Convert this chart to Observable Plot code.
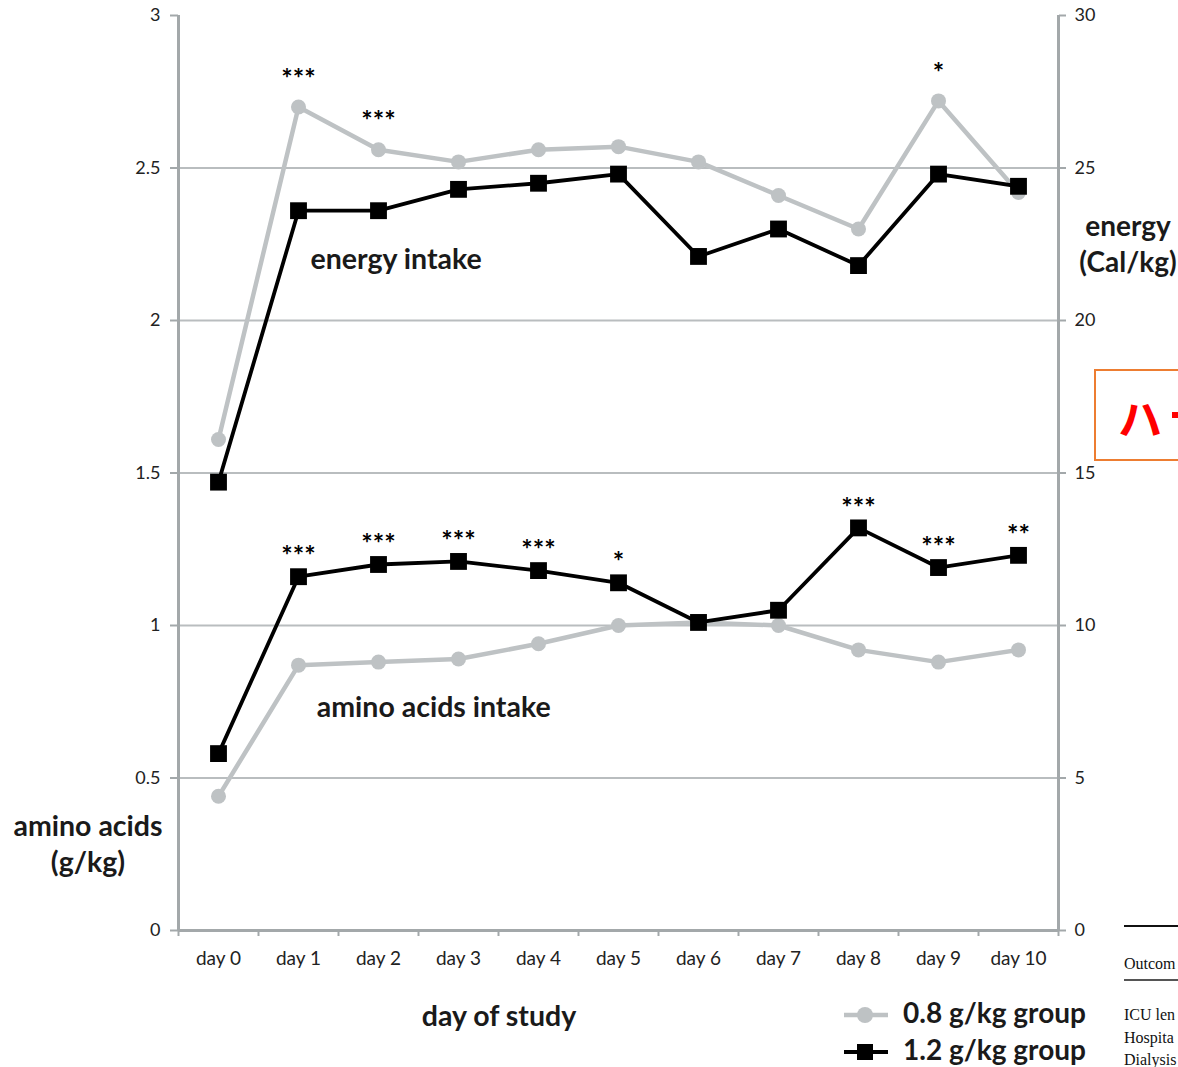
<!DOCTYPE html>
<html>
<head>
<meta charset="utf-8">
<script src="https://cdn.jsdelivr.net/npm/d3@7"></script>
<script src="https://cdn.jsdelivr.net/npm/@observablehq/plot@0.6"></script>
<style>
  html, body { margin: 0; padding: 0; background: #fff; width: 1178px; height: 1067px; overflow: hidden; }
  #wrap { position: relative; width: 1178px; height: 1067px; overflow: hidden; font-family: Lato, "Open Sans", sans-serif; }
  #chart { position: absolute; left: 0; top: 0; }
  .lbl { position: absolute; font-weight: bold; color: #1a1a1a; white-space: nowrap; text-align: center; line-height: 36px; }
  .leg { position: absolute; font-weight: bold; color: #1a1a1a; font-size: 28px; white-space: nowrap; }
  .serif { position: absolute; font-family: "Liberation Serif", serif; font-size: 16px; color: #111; white-space: nowrap; }
</style>
</head>
<body>
<div id="wrap">
  <div id="chart"></div>
  <div class="lbl" style="left:3px; top:807px; width:170px; font-size:28.5px;">amino acids<br>(g/kg)</div>
  <div class="lbl" style="left:1068px; top:207px; width:120px; font-size:28px;">energy<br>(Cal/kg)</div>
  <div class="lbl" style="left:389px; top:997px; width:220px; font-size:28.5px;">day of study</div>
  <div id="legend"></div>
  <div style="position:absolute; left:1094px; top:369px; width:120px; height:88px; border:2px solid #ed7d31;"></div>
  <div style="position:absolute; left:1118px; top:385px; font-size:44px; color:#ff0000; font-family:'Noto Sans CJK JP', sans-serif; font-weight:bold; white-space:nowrap;">ハ</div>
  <div style="position:absolute; left:1172px; top:412px; width:8px; height:6px; background:#ff0000;"></div>
  <div style="position:absolute; left:1124px; top:925px; width:60px; height:2px; background:#111;"></div>
  <div class="serif" style="left:1124px; top:955px;">Outcom</div>
  <div style="position:absolute; left:1124px; top:979px; width:60px; height:2px; background:#555;"></div>
  <div class="serif" style="left:1124px; top:1006px;">ICU len</div>
  <div class="serif" style="left:1124px; top:1029px;">Hospita</div>
  <div class="serif" style="left:1124px; top:1051px;">Dialysis</div>
</div>
<script>
// ---- data ----
const days = [0, 1, 2, 3, 4, 5, 6, 7, 8, 9, 10];
const dayLabels = days.map(d => `day ${d}`);
// energy intake (Cal/kg)
const energyLow  = [16.1, 27.0, 25.6, 25.2, 25.6, 25.7, 25.2, 24.1, 23.0, 27.2, 24.2]; // 0.8 g/kg group
const energyHigh = [14.7, 23.6, 23.6, 24.3, 24.5, 24.8, 22.1, 23.0, 21.8, 24.8, 24.4]; // 1.2 g/kg group
// amino acids intake (g/kg)
const aminoLow  = [0.44, 0.87, 0.88, 0.89, 0.94, 1.00, 1.01, 1.00, 0.92, 0.88, 0.92];
const aminoHigh = [0.58, 1.16, 1.20, 1.21, 1.18, 1.14, 1.01, 1.05, 1.32, 1.19, 1.23];
// significance marks
const energySig = ["", "***", "***", "", "", "", "", "", "", "*", ""];
const aminoSig  = ["", "***", "***", "***", "***", "*", "", "", "***", "***", "**"];
const leftTicks = [0, 0.5, 1, 1.5, 2, 2.5, 3];
const gridTicks = [0.5, 1, 1.5, 2, 2.5];
const rightTickLabels = [0, 5, 10, 15, 20, 25, 30];
const groups = ["0.8 g/kg group", "1.2 g/kg group"];

// ---- tables ----
const gray = "#bec2c4";
const black = "#000000";
const axisGray = "#a3a8aa";
const rows = (vals, scale) => days.map((d, i) => ({day: d, v: vals[i] / scale}));
const eLow = rows(energyLow, 10), eHigh = rows(energyHigh, 10);
const aLow = rows(aminoLow, 1), aHigh = rows(aminoHigh, 1);
const eSig = days.map((d, i) => ({day: d, v: Math.max(energyLow[i], energyHigh[i]) / 10, t: energySig[i]})).filter(d => d.t);
const aSig = days.map((d, i) => ({day: d, v: Math.max(aminoLow[i], aminoHigh[i]), t: aminoSig[i]})).filter(d => d.t);
const bounds = d3.range(-0.5, 11, 1);

const plot = Plot.plot({
  width: 1178,
  height: 985,
  marginLeft: 178,
  marginRight: 120,
  marginTop: 15,
  marginBottom: 55,
  style: {fontFamily: "Lato, 'Open Sans', sans-serif", background: "transparent"},
  x: {domain: [-0.5, 10.5]},
  y: {domain: [0, 3]},
  marks: [
    Plot.ruleY(gridTicks, {stroke: "#b9bdbf", strokeWidth: 2}),
    Plot.ruleX([-0.5, 10.5], {stroke: axisGray, strokeWidth: 3}),
    Plot.ruleY([0], {stroke: axisGray, strokeWidth: 3}),
    Plot.axisY({ticks: leftTicks, anchor: "left", tickSize: 8, tickPadding: 10, stroke: axisGray, strokeWidth: 2, fontSize: 18, color: "#222", label: null, tickFormat: d => String(d)}),
    Plot.axisY({ticks: leftTicks, anchor: "right", tickSize: 7, tickPadding: 9, stroke: axisGray, strokeWidth: 2, fontSize: 18, color: "#222", label: null, tickFormat: d => String(rightTickLabels[leftTicks.indexOf(d)])}),
    Plot.axisX({ticks: bounds, anchor: "bottom", tickSize: 6, stroke: axisGray, strokeWidth: 2, tickFormat: () => "", label: null}),
    Plot.axisX({ticks: days, anchor: "bottom", tickSize: 0, tickPadding: 21, fontSize: 19, color: "#222", label: null, tickFormat: d => dayLabels[d]}),
    // 0.8 g/kg group
    Plot.line(eLow, {x: "day", y: "v", stroke: gray, strokeWidth: 4.5}),
    Plot.dot(eLow, {x: "day", y: "v", fill: gray, r: 7.5, symbol: "circle"}),
    Plot.line(aLow, {x: "day", y: "v", stroke: gray, strokeWidth: 4.5}),
    Plot.dot(aLow, {x: "day", y: "v", fill: gray, r: 7.5, symbol: "circle"}),
    // 1.2 g/kg group
    Plot.line(eHigh, {x: "day", y: "v", stroke: black, strokeWidth: 3.8}),
    Plot.dot(eHigh, {x: "day", y: "v", fill: black, r: 9.5, symbol: "square"}),
    Plot.line(aHigh, {x: "day", y: "v", stroke: black, strokeWidth: 3.8}),
    Plot.dot(aHigh, {x: "day", y: "v", fill: black, r: 9.5, symbol: "square"}),
    // significance
    Plot.text(eSig, {x: "day", y: "v", text: "t", dy: -28, fontSize: 27, fontWeight: "bold", fill: "#000"}),
    Plot.text(aSig, {x: "day", y: "v", text: "t", dy: -20, fontSize: 27, fontWeight: "bold", fill: "#000"}),
    // series labels
    Plot.text(["energy intake"], {x: 2.22, y: 2.2, text: d => d, fontSize: 28.5, fontWeight: "bold", fill: "#1a1a1a"}),
    Plot.text(["amino acids intake"], {x: 2.69, y: 0.73, text: d => d, fontSize: 28.5, fontWeight: "bold", fill: "#1a1a1a"})
  ]
});
document.getElementById("chart").appendChild(plot);

// legend built from group names
const legend = document.getElementById("legend");
const legSpec = [
  {name: groups[0], color: gray, sym: "circle", top: 995},
  {name: groups[1], color: black, sym: "square", top: 1032}
];
legSpec.forEach(s => {
  const svg = d3.create("svg").attr("width", 50).attr("height", 24)
    .style("position", "absolute").style("left", "842px").style("top", (s.top + 8) + "px");
  svg.append("line").attr("x1", 2).attr("x2", 46).attr("y1", 12).attr("y2", 12)
    .attr("stroke", s.color).attr("stroke-width", s.sym === "circle" ? 4.5 : 3.8);
  if (s.sym === "circle") svg.append("circle").attr("cx", 23).attr("cy", 12).attr("r", 8).attr("fill", s.color);
  else svg.append("rect").attr("x", 15).attr("y", 4).attr("width", 16).attr("height", 16).attr("fill", s.color);
  legend.appendChild(svg.node());
  const t = document.createElement("div");
  t.className = "leg";
  t.style.left = "903px";
  t.style.top = s.top + "px";
  t.textContent = s.name;
  legend.appendChild(t);
});
</script>
</body>
</html>
